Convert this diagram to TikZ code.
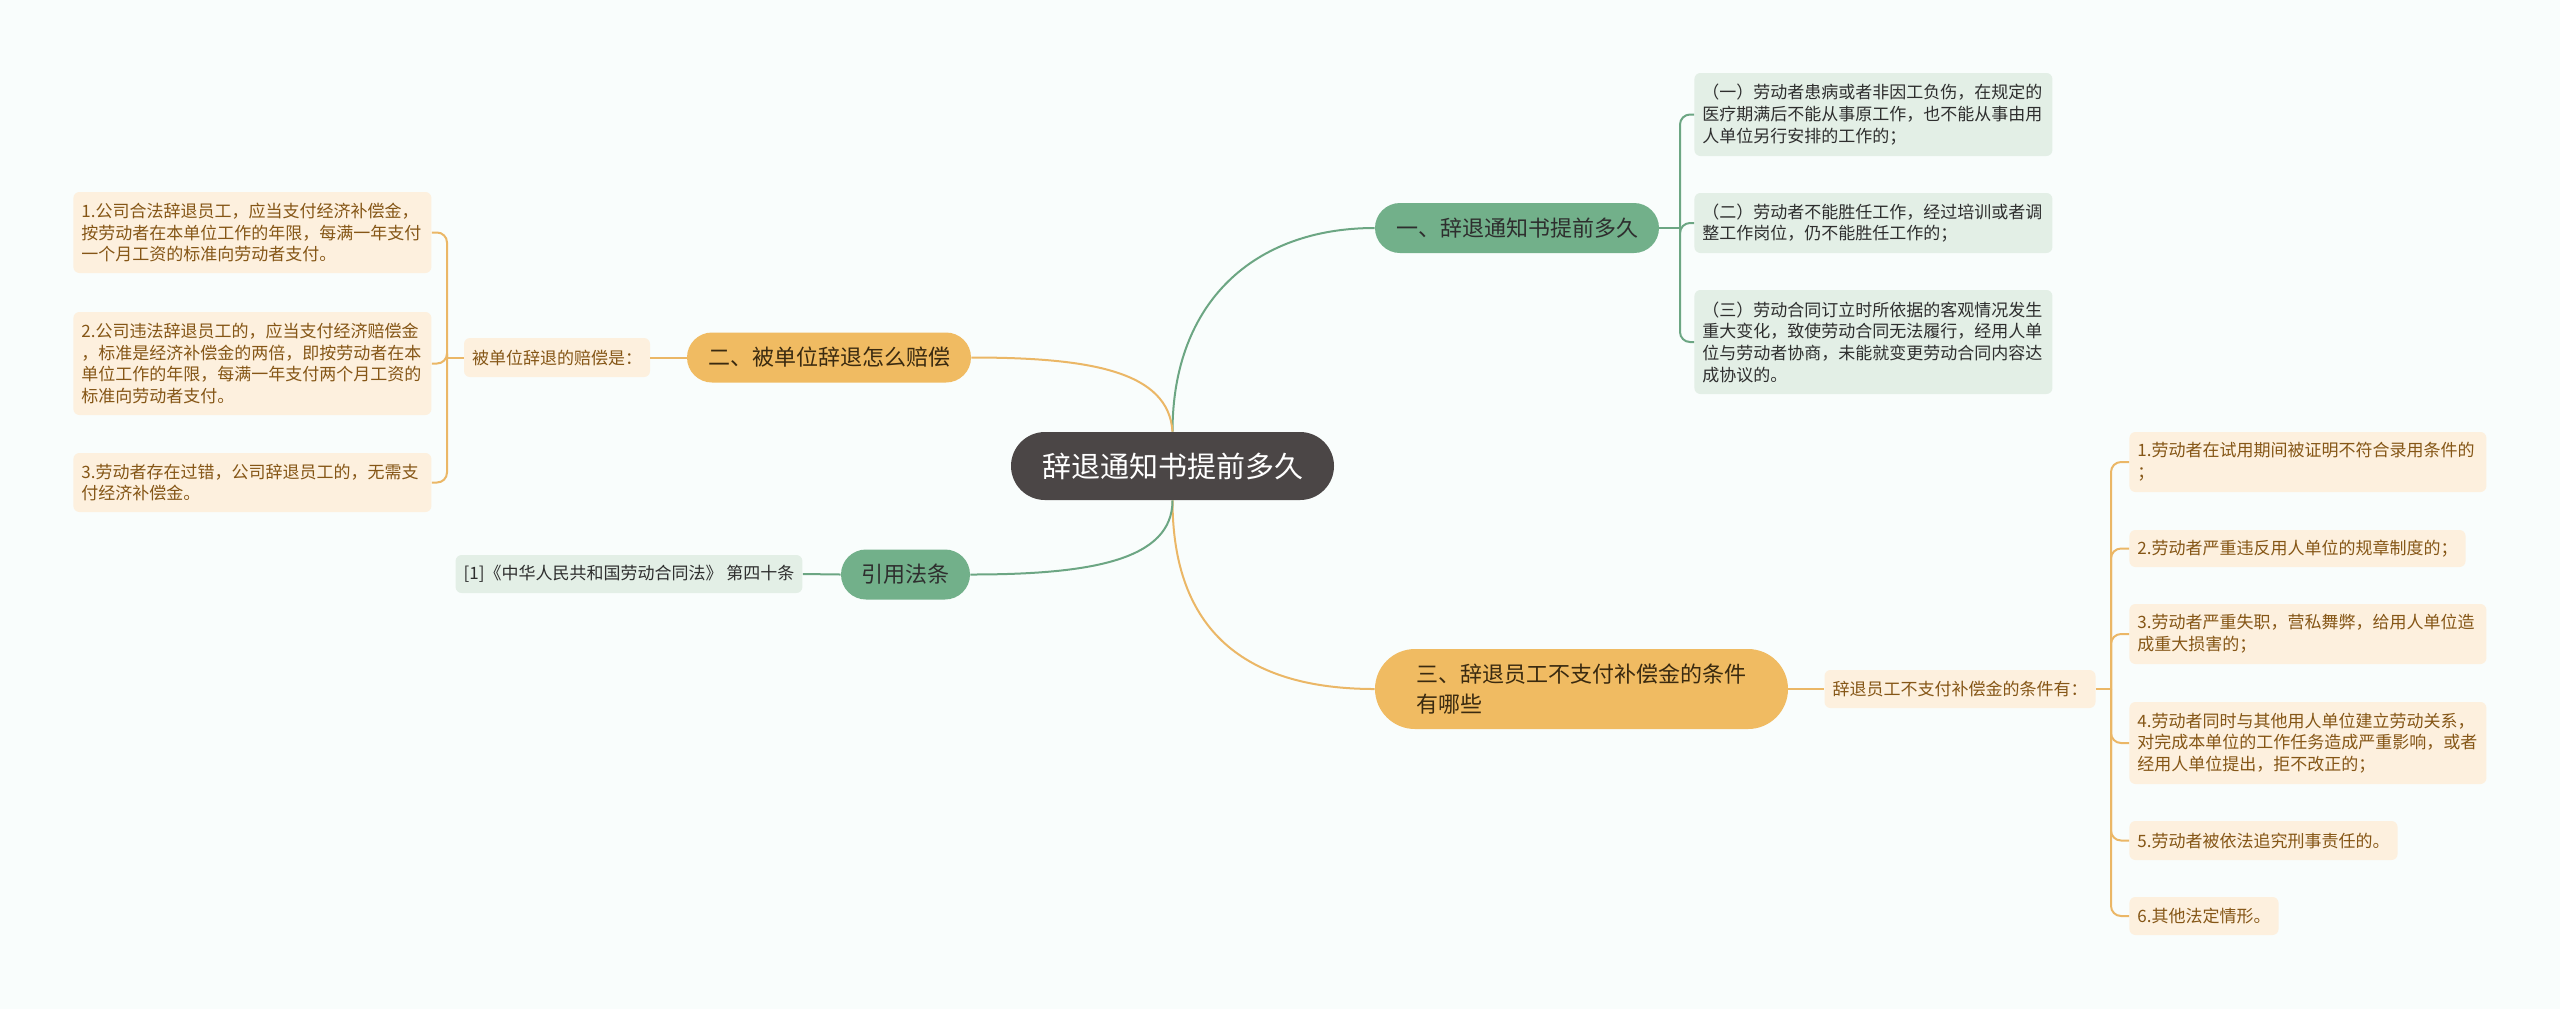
\documentclass[tikz,border=0pt]{standalone}
\usepackage{fontspec}
\setmainfont{Noto Sans CJK SC}
\usetikzlibrary{shapes.misc}

\definecolor{bgcol}{HTML}{F9FDFC}
\definecolor{rootfill}{HTML}{4B4646}
\definecolor{gfill}{HTML}{72B08A}
\definecolor{yfill}{HTML}{F0BB62}
\definecolor{gline}{HTML}{6CA683}
\definecolor{yline}{HTML}{EBB766}
\definecolor{gleaffill}{HTML}{E3EFE6}
\definecolor{yleaffill}{HTML}{FDF0DE}
\definecolor{gtext}{HTML}{2E2E2E}
\definecolor{ytext}{HTML}{3A2A10}
\definecolor{yleaftext}{HTML}{855616}

\newcommand{\leaffont}{\fontsize{8.5}{10.85}\selectfont}

\tikzset{
  topic/.style={rounded rectangle, fill=rootfill, text=white,
    font=\fontsize{14.5}{17}\selectfont, minimum width=165.5pt,
    minimum height=34pt, inner sep=2pt},
  gmain/.style={rounded rectangle, fill=gfill, text=gtext,
    font=\fontsize{11}{15}\selectfont, minimum height=25pt, inner sep=2pt},
  ymain/.style={rounded rectangle, fill=yfill, text=ytext, align=left,
    font=\fontsize{11}{15}\selectfont, minimum height=25pt, inner sep=2pt},
  gleaf/.style={rectangle, rounded corners=3pt, fill=gleaffill, text=gtext,
    font=\leaffont, align=left, inner xsep=4pt, inner ysep=2pt},
  yleaf/.style={rectangle, rounded corners=3pt, fill=yleaffill, text=yleaftext,
    font=\leaffont, align=left, inner xsep=4pt, inner ysep=2pt},
  gbranch/.style={draw=gline, line width=1pt},
  ybranch/.style={draw=yline, line width=1pt},
}

\begin{document}
\begin{tikzpicture}[x=0.5pt, y=-0.5pt]
  \fill[bgcol] (0,0) rectangle (2560,1009);
  \useasboundingbox (0,0) rectangle (2560,1009);

  % centre and the four topics
  \node[topic] (root) at (1172.5,466) {辞退通知书提前多久};
  \node[gmain, minimum width=146pt] (t1) at (1517,228) {一、辞退通知书提前多久};
  \node[ymain, minimum width=146pt] (t2) at (829,357.5) {二、被单位辞退怎么赔偿};
  \node[ymain, minimum width=210.5pt, minimum height=40pt] (t3) at (1581.5,689)
    {三、辞退员工不支付补偿金的条件\\有哪些};
  \node[gmain, minimum width=68.5pt] (t4) at (905.5,574.5) {引用法条};

  % branches from the centre
  \draw[gbranch] (root.north) .. controls +(0,-130) and +(-120,0) .. (t1.west);
  \draw[ybranch] (root.north) .. controls +(-4,-60) and +(120,0) .. (t2.east);
  \draw[ybranch] (root.south) .. controls +(0,130) and +(-130,0) .. (t3.west);
  \draw[gbranch] (root.south) .. controls +(0,60) and +(120,0) .. (t4.east);

  % topic one
  \node[gleaf, anchor=west, text width=171pt, minimum height=41.5pt] (b1) at (1694,114.5)
    {（一）劳动者患病或者非因工负伤，在规定的\\医疗期满后不能从事原工作，也不能从事由用\\人单位另行安排的工作的；};
  \node[gleaf, anchor=west, text width=171pt, minimum height=30pt] (b2) at (1694,223)
    {（二）劳动者不能胜任工作，经过培训或者调\\整工作岗位，仍不能胜任工作的；};
  \node[gleaf, anchor=west, text width=171pt, minimum height=52pt] (b3) at (1694,342)
    {（三）劳动合同订立时所依据的客观情况发生\\重大变化，致使劳动合同无法履行，经用人单\\位与劳动者协商，未能就变更劳动合同内容达\\成协议的。};
  \coordinate (j1) at (1680,228);
  \draw[gbranch] (t1.east) -- (j1);
  \foreach \n in {b1,b2,b3}
    \draw[gbranch, rounded corners=5pt] (j1) |- (\n.west);

  % topic two
  \node[yleaf, minimum height=19.5pt] (lab2) at (557,357.5) {被单位辞退的赔偿是：};
  \node[yleaf, anchor=west, text width=171pt, minimum height=40.5pt] (a1) at (73,232.5)
    {1.公司合法辞退员工，应当支付经济补偿金，\\按劳动者在本单位工作的年限，每满一年支付\\一个月工资的标准向劳动者支付。};
  \node[yleaf, anchor=west, text width=171pt, minimum height=51.5pt] (a2) at (73,363.5)
    {2.公司违法辞退员工的，应当支付经济赔偿金\\，标准是经济补偿金的两倍，即按劳动者在本\\单位工作的年限，每满一年支付两个月工资的\\标准向劳动者支付。};
  \node[yleaf, anchor=west, text width=171pt, minimum height=29.5pt] (a3) at (73,482.5)
    {3.劳动者存在过错，公司辞退员工的，无需支\\付经济补偿金。};
  \coordinate (j2) at (447,357.5);
  \draw[ybranch] (t2.west) -- (lab2.east);
  \draw[ybranch] (lab2.west) -- (j2);
  \foreach \n in {a1,a2,a3}
    \draw[ybranch, rounded corners=5pt] (j2) |- (\n.east);

  % topic three
  \node[yleaf, minimum height=19pt] (lab3) at (1960,689) {辞退员工不支付补偿金的条件有：};
  \node[yleaf, anchor=west, text width=170.5pt, minimum height=30pt] (c1) at (2129,462)
    {1.劳动者在试用期间被证明不符合录用条件的\\；};
  \node[yleaf, anchor=west, minimum height=18.5pt] (c2) at (2129,548.5)
    {2.劳动者严重违反用人单位的规章制度的；};
  \node[yleaf, anchor=west, text width=170.5pt, minimum height=30pt] (c3) at (2129,634)
    {3.劳动者严重失职，营私舞弊，给用人单位造\\成重大损害的；};
  \node[yleaf, anchor=west, text width=170.5pt, minimum height=41pt] (c4) at (2129,743)
    {4.劳动者同时与其他用人单位建立劳动关系，\\对完成本单位的工作任务造成严重影响，或者\\经用人单位提出，拒不改正的；};
  \node[yleaf, anchor=west, minimum height=19.5pt] (c5) at (2129,840.5)
    {5.劳动者被依法追究刑事责任的。};
  \node[yleaf, anchor=west, minimum height=19pt] (c6) at (2129,916)
    {6.其他法定情形。};
  \coordinate (j3) at (2111,689);
  \draw[ybranch] (t3.east) -- (lab3.west);
  \draw[ybranch] (lab3.east) -- (j3);
  \foreach \n in {c1,c2,c3,c4,c5,c6}
    \draw[ybranch, rounded corners=5pt] (j3) |- (\n.west);

  % topic four
  \node[gleaf, minimum height=19pt] (ref) at (629,574)
    {[1]《中华人民共和国劳动合同法》 第四十条};
  \draw[gbranch] (t4.west) -- (ref.east);
\end{tikzpicture}
\end{document}
